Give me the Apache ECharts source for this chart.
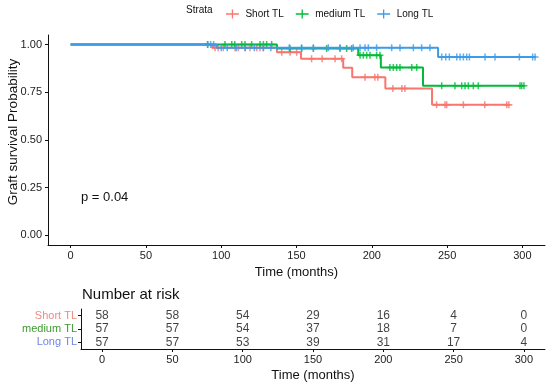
<!DOCTYPE html>
<html><head><meta charset="utf-8">
<script src="https://cdn.jsdelivr.net/npm/echarts@6/dist/echarts.min.js"></script>
<style>html,body{margin:0;padding:0;background:#fff}#c{width:550px;height:386px}</style>
</head><body><div id="c"></div>
<script>
const groups = ['Short TL', 'medium TL', 'Long TL'];
const shortSteps = [[0,1],[94,0.983],[137,0.960],[153,0.926],[181,0.879],[187,0.829],[209,0.770],[240,0.684]];
const shortEnd = 291;
const mediumSteps = [[0,1],[137,0.979],[191,0.944],[206,0.880],[234,0.784]];
const mediumEnd = 301;
const longSteps = [[0,1],[97,0.983],[244,0.935]];
const longEnd = 309;
const shortCensor = [95.9,98,101.4,109.2,111.4,115.8,119.1,123.6,125.8,128,140.2,145.7,150.1,160,167,175.6,180,195.5,202,204,214,220,222,243,248.6,249.7,260.8,275,289.6,291];
const mediumCensor = [91,102.5,107,109,113.6,115.8,120.2,125.8,128,130.2,133.5,145.7,153.4,161.2,170,178.9,183.3,186.6,192.2,194.4,196.6,198.8,203.2,205.4,212,214.3,216.5,218.7,226.5,229.8,246.4,255.2,259.7,261.9,264.1,267.4,270.7,298.4,299.5,301];
const longCensor = [91,93,95,100,104,110,116,122,128,133,145.2,153.4,161.2,171.1,178.9,187.7,192.2,195.5,197.7,203.2,213.2,218.7,227.6,233.1,238.6,246.4,249.1,251.5,256.4,258.6,260.8,263,264.8,275.2,281.8,298,306.8,308.4];
const riskTimes = [0,50,100,150,200,250,300];
const riskShort = [58,58,54,29,16,4,0];
const riskMedium = [57,57,54,37,18,7,0];
const riskLong = [57,57,53,39,31,17,4];
const xTicks = [0,50,100,150,200,250,300];
const yTicks = [0,0.25,0.5,0.75,1];
const pText = 'p = 0.04';

const lineColors = ['#F8766D', '#00BA38', '#3D9CE8'];
const labelColors = ['#F08A82', '#3E9A2E', '#6F86E6'];
const FONT = 'Liberation Sans, Arial, Helvetica, sans-serif';

function stepVal(steps, t) {
  let v = steps[0][1];
  for (const s of steps) { if (s[0] <= t) v = s[1]; }
  return v;
}
function lineData(steps, end) {
  return steps.concat([[end, steps[steps.length - 1][1]]]);
}
const plus = 'path://M-2.2,-10H2.2V-2.2H10V2.2H2.2V10H-2.2V2.2H-10V-2.2H-2.2Z';
const legendIcon = 'path://M0,9H20V11H0Z M9,3H11V17H9Z';

const allSteps = [shortSteps, mediumSteps, longSteps];
const allEnds = [shortEnd, mediumEnd, longEnd];
const allCensor = [shortCensor, mediumCensor, longCensor];
const allRisk = [riskShort, riskMedium, riskLong];

const series = [];
groups.forEach((g, i) => {
  series.push({
    name: g, type: 'line', step: 'end', xAxisIndex: 0, yAxisIndex: 0,
    data: lineData(allSteps[i], allEnds[i]), showSymbol: false, symbol: 'none',
    lineStyle: { color: lineColors[i], width: 2 }, itemStyle: { color: lineColors[i] },
    z: 2 + i
  });
});
groups.forEach((g, i) => {
  series.push({
    name: g, type: 'scatter', xAxisIndex: 0, yAxisIndex: 0,
    data: allCensor[i].map(t => [t, stepVal(allSteps[i], t)]),
    symbol: plus, symbolSize: 7, itemStyle: { color: lineColors[i] }, z: 2 + i
  });
});
const riskData = [];
groups.forEach((g, i) => {
  riskTimes.forEach((t, j) => riskData.push([t, g, allRisk[i][j]]));
});
series.push({
  type: 'scatter', xAxisIndex: 1, yAxisIndex: 1, data: riskData, symbolSize: 0,
  label: { show: true, position: 'inside', formatter: p => String(p.value[2]), color: '#111', fontSize: 12, fontFamily: FONT },
  silent: true
});

const axisLineStyle = { color: '#111', width: 1 };
const chart = echarts.init(document.getElementById('c'), null, { renderer: 'canvas' });
chart.setOption({
  animation: false,
  textStyle: { fontFamily: FONT },
  legend: {
    data: groups.map(g => ({ name: g, icon: legendIcon })),
    top: 4, left: 221, itemWidth: 16, itemHeight: 9, itemGap: 12,
    textStyle: { fontSize: 10, color: '#111', fontFamily: FONT },
    selectedMode: false
  },
  graphic: [
    { type: 'text', left: 186, top: 5, style: { text: 'Strata', fontSize: 10, fill: '#111', fontFamily: FONT } },
    { type: 'text', left: 81, top: 191, style: { text: pText, fontSize: 13, fill: '#111', fontFamily: FONT } },
    { type: 'text', left: 82, top: 287, style: { text: 'Number at risk', fontSize: 15, fill: '#111', fontFamily: FONT } },
    { type: 'text', x: 13, y: 132, rotation: Math.PI / 2,
      style: { text: 'Graft survival Probability', fontSize: 13.5, fill: '#111', fontFamily: FONT, align: 'center', verticalAlign: 'middle' } }
  ],
  grid: [
    { left: 48, right: 5, top: 35, height: 210, outerBoundsMode: 'none', containLabel: false },
    { left: 81, right: 5, top: 309, height: 40, outerBoundsMode: 'none', containLabel: false }
  ],
  xAxis: [
    { type: 'value', gridIndex: 0, min: -15, max: 315,
      axisLine: { show: true, onZero: false, lineStyle: axisLineStyle },
      axisTick: { show: true, length: 3, lineStyle: axisLineStyle, customValues: xTicks },
      axisLabel: { customValues: xTicks, fontSize: 11, color: '#222', margin: 5 },
      splitLine: { show: false },
      name: 'Time (months)', nameLocation: 'middle', nameGap: 18,
      nameTextStyle: { fontSize: 13, color: '#111' } },
    { type: 'value', gridIndex: 1, min: -15, max: 315,
      axisLine: { show: true, onZero: false, lineStyle: axisLineStyle },
      axisTick: { show: true, length: 3, lineStyle: axisLineStyle, customValues: xTicks },
      axisLabel: { customValues: xTicks, fontSize: 11, color: '#222', margin: 5 },
      splitLine: { show: false },
      name: 'Time (months)', nameLocation: 'middle', nameGap: 20,
      nameTextStyle: { fontSize: 13, color: '#111' } }
  ],
  yAxis: [
    { type: 'value', gridIndex: 0, min: -0.05, max: 1.05,
      axisLine: { show: true, onZero: false, lineStyle: axisLineStyle },
      axisTick: { show: true, length: 3, lineStyle: axisLineStyle, customValues: yTicks },
      axisLabel: { customValues: yTicks, fontSize: 11, color: '#222', margin: 6, formatter: v => v.toFixed(2) },
      splitLine: { show: false } },
    { type: 'category', gridIndex: 1, data: groups, inverse: true,
      axisLine: { show: true, onZero: false, lineStyle: axisLineStyle },
      axisTick: { show: true, length: 3, alignWithLabel: true, interval: 0, lineStyle: axisLineStyle },
      axisLabel: { fontSize: 11, margin: 4, interval: 0, color: (v, i) => labelColors[groups.indexOf(v)] },
      splitLine: { show: false } }
  ],
  series: series
});
</script></body></html>
